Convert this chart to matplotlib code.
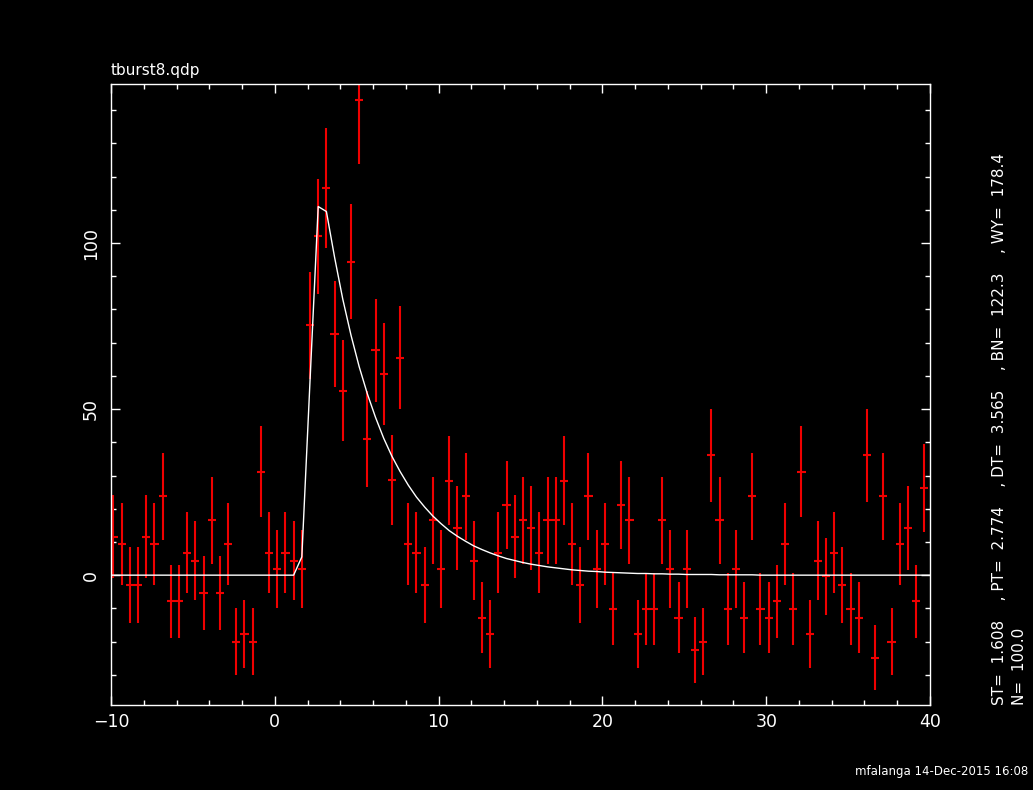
import numpy as np
import matplotlib
matplotlib.use("Agg")
import matplotlib.pyplot as plt
from matplotlib.ticker import MultipleLocator

# ---- data ----
bin_start = -9.85
bin_width = 0.5
rate = [11.6, 9.3, -3.0, -3.0, 11.6, 9.3, 23.7, -7.9, -7.9, 6.7,
        4.4, -5.3, 16.5, -5.3, 9.3, -20.0, -17.8, -20.0, 31.2, 6.7,
        1.8, 6.7, 4.4, 1.8, 75.2, 102.0, 116.5, 72.6, 55.6, 94.4,
        143.2, 40.9, 67.7, 60.5, 28.6, 65.5, 9.3, 6.7, -3.0, 16.5,
        1.8, 28.5, 14.2, 23.7, 4.4, -12.8, -17.8, 6.7, 21.1, 11.6,
        16.5, 14.2, 6.7, 16.5, 16.5, 28.5, 9.3, -3.0, 23.7, 1.8,
        9.3, -10.2, 21.1, 16.5, -17.8, -10.2, -10.2, 16.5, 1.8, -12.8,
        1.8, -22.6, -20.0, 36.1, 16.5, -10.2, 1.8, -12.8, 23.7, -10.2,
        -12.8, -7.9, 9.3, -10.2, 31.2, -17.8, 4.4, -0.4, 6.7, -3.0,
        -10.2, -12.8, 36.1, -24.9, 23.7, -20.0, 9.3, 14.2, -7.9, 26.3]
rate_err = [12.5, 12.3, 11.5, 11.5, 12.5, 12.3, 13.2, 11.0, 11.0, 12.2,
            12.0, 11.2, 13.0, 11.2, 12.3, 10.2, 10.3, 10.2, 13.6, 12.2,
            11.8, 12.2, 12.0, 11.8, 16.1, 17.4, 18.1, 15.9, 15.2, 17.3,
            19.3, 14.5, 15.6, 15.3, 13.5, 15.6, 12.3, 12.2, 11.5, 13.0,
            11.8, 13.5, 12.7, 13.2, 12.0, 10.7, 10.3, 12.2, 13.3, 12.5,
            13.0, 12.7, 12.2, 13.0, 13.0, 13.5, 12.3, 11.5, 13.2, 11.8,
            12.3, 10.9, 13.3, 13.0, 10.3, 10.9, 10.9, 13.0, 11.8, 10.7,
            11.8, 10.0, 10.2, 14.0, 13.0, 10.9, 11.8, 10.7, 13.2, 10.9,
            10.7, 11.0, 12.3, 10.9, 13.6, 10.3, 12.0, 11.6, 12.2, 11.5,
            10.9, 10.7, 14.0, 9.8, 13.2, 10.2, 12.3, 12.7, 11.0, 13.3]
model = [0.0] * 23 + [
    5.5, 58.5, 111.0, 109.5, 95.7, 83.1, 72.3, 62.8, 54.6, 47.5,
    41.2, 35.8, 31.2, 27.1, 23.5, 20.5, 17.8, 15.5, 13.4, 11.7,
    10.2, 8.8, 7.7, 6.7, 5.8, 5.0, 4.4, 3.8, 3.3, 2.9,
    2.5, 2.2, 1.9, 1.6, 1.4, 1.2, 1.1, 0.9, 0.8, 0.7,
    0.6, 0.5, 0.5, 0.4, 0.4, 0.3, 0.3, 0.2, 0.2, 0.2,
    0.2, 0.1, 0.1, 0.1, 0.1, 0.1] + [0.0] * 21

title_text = "tburst8.qdp"
param_text = "ST=  1.608    , PT=  2.774    , DT=  3.565    , BN=  122.3    , WY=  178.4"
n_text = "N=  100.0"
stamp_text = "mfalanga 14-Dec-2015 16:08"

time = bin_start + bin_width * np.arange(len(rate))
xlim = (-10, 40)
ylim = (-39.1, 147.9)

W, H = 1033, 790
fig = plt.figure(figsize=(W / 100, H / 100), dpi=100, facecolor="black")
ax = fig.add_axes([111 / W, 85 / H, 819 / W, 621 / H])
ax.set_facecolor("black")

ax.errorbar(time, rate, yerr=rate_err, xerr=bin_width / 2, fmt="none",
            ecolor="#f00000", elinewidth=1.5, capsize=0, zorder=2)
mx = np.concatenate(([xlim[0]], time, [xlim[1]]))
my = np.concatenate(([model[0]], model, [model[-1]]))
ax.plot(mx, my, color="white", lw=1.0, zorder=3)

ax.set_xlim(*xlim)
ax.set_ylim(*ylim)
for s in ax.spines.values():
    s.set_color("white")
    s.set_linewidth(1.0)
ax.xaxis.set_major_locator(MultipleLocator(10))
ax.xaxis.set_minor_locator(MultipleLocator(2))
ax.yaxis.set_major_locator(MultipleLocator(50))
ax.yaxis.set_minor_locator(MultipleLocator(10))
ax.tick_params(which="both", direction="in", top=True, right=True,
               colors="white", width=1.0)
ax.tick_params(which="major", length=6.5)
ax.tick_params(which="minor", length=3.5)
ax.tick_params(axis="x", labelsize=12.5, pad=6)
ax.tick_params(axis="y", labelsize=12.5, pad=8, labelrotation=90)
for lbl in ax.get_yticklabels():
    lbl.set_va("center")

fig.text(111 / W, 1 - 74.5 / H, title_text, color="white", fontsize=11,
         ha="left", va="baseline")
fig.text(1000 / W, 1 - 705 / H, param_text, color="white", fontsize=11,
         rotation=90, ha="center", va="bottom")
fig.text(1020 / W, 1 - 705 / H, n_text, color="white", fontsize=11,
         rotation=90, ha="center", va="bottom")
fig.text(1028 / W, 1 - 775 / H, stamp_text, color="white", fontsize=8.5,
         ha="right", va="baseline")

fig.savefig("out.png", dpi=100, facecolor="black")
